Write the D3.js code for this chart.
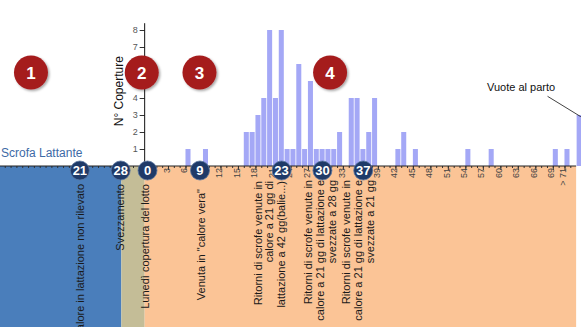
<!DOCTYPE html>
<html>
<head>
<meta charset="utf-8">
<script src="https://cdn.jsdelivr.net/npm/d3@7"></script>
<style>
  body { margin: 0; background: #fff; }
  svg { display: block; font-family: Arial, "Liberation Sans", sans-serif; }
</style>
</head>
<body>
<svg id="chart" width="581" height="327"></svg>
<script>
// giorni dalla copertura del lotto -> numero di coperture
const days = [6, 9, 16, 17, 18, 19, 20, 21, 22, 23, 24, 25, 26, 27, 28, 29, 30, 31, 32, 34, 35, 36, 37, 38, 42, 43, 45, 54, 58, 69, 71];
const counts = [1, 1, 2, 2, 3, 4, 8, 4, 8, 1, 1, 6, 1, 5, 1, 1, 1, 1, 2, 4, 4, 1, 2, 4, 1, 2, 1, 1, 1, 1, 1];
const emptyLabel = "Vuote al parto";
const emptyCount = 3;

const tickDays = [3, 6, 9, 12, 15, 18, 21, 24, 27, 30, 33, 36, 39, 42, 45, 48, 51, 54, 57, 60, 63, 66, 69, 71];
const tickLabels = ["3", "6", "9", "12", "15", "18", "21", "24", "27", "30", "33", "36", "39", "42", "45", "48", "51", "54", "57", "60", "63", "66", "69", "> 71"];

const lactMarks = [21, 28];           // giorni di lattazione
const coverMarks = [0, 9, 23, 30, 37]; // giorni dalla copertura
const stepLabels = ["1", "2", "3", "4"];

const noteLines = [
  ["Venuta in calore in lattazione non rilevato"],
  ["Svezzamento"],
  ["Lunedì copertura del lotto"],
  ["Venuta in  \"calore vera\""],
  ["Ritorni di scrofe venute in", "calore a 21 gg di", "lattazione a 42 gg(balie...)"],
  ["Ritorni di scrofe venute in", "calore a 21  gg di lattazione e", "svezzate a 28 gg"],
  ["Ritorni di scrofe venute in", "calore a 21  gg di lattazione e", "svezzate a 21 gg"]
];

// ---- layout ----
const width = 581, height = 327;
const svg = d3.select("#chart");

const x = d3.scaleLinear().domain([0, 72]).range([150.5, 570.3]);
const y = d3.scaleLinear().domain([0, 8]).range([166, 30]);
const step = x(1) - x(0);
const lactShift = 32.6;   // giorno lattazione -> giorno copertura
const markNudge = -3;

const zones = [
  {from: -30, to: -5, color: "#4a7ebb"},
  {from: -5, to: -1, color: "#c4bd97"},
  {from: -1, to: 73, color: "#fbc496"}
];
svg.selectAll("rect.zone")
  .data(zones)
  .join("rect")
  .attr("class", "zone")
  .attr("x", d => Math.max(0, x(d.from)))
  .attr("width", d => x(d.to) - Math.max(0, x(d.from)))
  .attr("y", y(0))
  .attr("height", height - y(0))
  .attr("fill", d => d.color);

svg.append("text")
  .attr("x", 1)
  .attr("y", 157)
  .attr("font-size", 12)
  .attr("fill", "#3d6aa6")
  .text("Scrofa Lattante");

// bars
const data = days.map((d, i) => ({day: d, n: counts[i]}));
svg.selectAll("rect.bar")
  .data(data)
  .join("rect")
  .attr("class", "bar")
  .attr("x", d => x(d.day))
  .attr("width", step - 0.8)
  .attr("y", d => y(d.n))
  .attr("height", d => y(0) - y(d.n))
  .attr("fill", "#a4a8f6");

svg.append("rect")
  .attr("x", x(73) + 0.5)
  .attr("width", step - 0.8)
  .attr("y", y(emptyCount))
  .attr("height", y(0) - y(emptyCount))
  .attr("fill", "#a4a8f6");

svg.append("text")
  .attr("x", x(69.4))
  .attr("y", y(4.4))
  .attr("text-anchor", "end")
  .attr("font-size", 11)
  .attr("fill", "#111")
  .text(emptyLabel);
svg.append("line")
  .attr("x1", x(68.1)).attr("y1", y(4.1))
  .attr("x2", x(73.8)).attr("y2", y(2.9))
  .attr("stroke", "#111")
  .attr("stroke-width", 0.8);

// y axis
const yAxis = svg.append("g")
  .attr("transform", "translate(" + x(-1) + ",0)")
  .call(d3.axisLeft(y).tickValues(d3.range(1, 9)).tickSize(5).tickSizeOuter(0).tickFormat(d3.format("d")));
yAxis.select(".domain").remove();
yAxis.append("line")
  .attr("y1", y(8.4)).attr("y2", y(0))
  .attr("stroke", "#111");
yAxis.selectAll(".tick line").attr("stroke", "#333");
yAxis.selectAll(".tick text")
  .attr("font-size", 9)
  .attr("fill", "#555")
  .attr("x", -7);

svg.append("text")
  .attr("transform", "translate(" + (x(-1) - 22) + "," + y(4.4) + ") rotate(-90)")
  .attr("text-anchor", "middle")
  .attr("font-size", 12)
  .attr("fill", "#111")
  .text("N° Coperture");

// x axis
const minor = svg.append("g")
  .attr("transform", "translate(0," + y(0) + ")")
  .call(d3.axisBottom(x).tickValues(d3.range(-26, 73)).tickSize(2).tickFormat(""));
minor.select(".domain").remove();
minor.selectAll(".tick line").attr("stroke", "#333");

const xAxis = svg.append("g")
  .attr("transform", "translate(0," + y(0) + ")")
  .call(d3.axisBottom(x).tickValues(tickDays).tickSize(4).tickFormat((d, i) => tickLabels[i]));
xAxis.select(".domain").remove();
xAxis.selectAll(".tick line").attr("stroke", "#333");
xAxis.selectAll(".tick text")
  .attr("transform", "rotate(-90)")
  .attr("text-anchor", "end")
  .attr("x", -2)
  .attr("y", -2)
  .attr("dy", "0.35em")
  .attr("font-size", 9)
  .attr("fill", "#444");
svg.append("line")
  .attr("x1", 0).attr("x2", x(73))
  .attr("y1", y(0)).attr("y2", y(0))
  .attr("stroke", "#222");

// rotated notes
const noteDay = [-12, -5.2, -0.95, 8.7, 20.4, 29.1, 35.6];
const noteTop = [184, 184, 184, 189, 181, 180, 180];
const lineH = 11.6;
noteLines.forEach((lines, k) => {
  lines.forEach((t, i) => {
    const cx = x(noteDay[k]) + (i - (lines.length - 1) / 2) * lineH;
    svg.append("text")
      .attr("transform", "translate(" + cx + "," + noteTop[k] + ") rotate(-90)")
      .attr("text-anchor", "end")
      .attr("dy", "0.35em")
      .attr("font-size", 11)
      .attr("fill", "#1a1a1a")
      .text(t);
  });
});

// marker circles on the axis
const marks = lactMarks.map(v => ({label: v, px: x(v - lactShift) + markNudge}))
  .concat(coverMarks.map(v => ({label: v, px: x(v) + markNudge})));
const mg = svg.selectAll("g.mark")
  .data(marks)
  .join("g")
  .attr("class", "mark")
  .attr("transform", d => "translate(" + d.px + "," + (y(0) + 4.5) + ")");
mg.append("circle")
  .attr("r", 9.5)
  .attr("fill", "#1f3a68")
  .attr("stroke", "#5a76a0")
  .attr("stroke-width", 0.8);
mg.append("text")
  .attr("text-anchor", "middle")
  .attr("dy", "0.36em")
  .attr("font-size", 13)
  .attr("font-weight", "bold")
  .attr("fill", "#fff")
  .text(d => d.label);

// red step badges
const defs = svg.append("defs");
const f = defs.append("filter").attr("id", "sh").attr("x", "-30%").attr("y", "-30%").attr("width", "170%").attr("height", "170%");
f.append("feDropShadow").attr("dx", 1.5).attr("dy", 1.5).attr("stdDeviation", 1.2).attr("flood-color", "#000").attr("flood-opacity", 0.35);

const stepDay = [-20.5, -1.5, 8.4, 30.8];
const sg = svg.selectAll("g.step")
  .data(stepLabels)
  .join("g")
  .attr("class", "step")
  .attr("transform", (d, i) => "translate(" + x(stepDay[i]) + "," + y(5.5) + ")");
sg.append("circle")
  .attr("r", 17)
  .attr("fill", "#a51c1f")
  .attr("filter", "url(#sh)");
sg.append("text")
  .attr("text-anchor", "middle")
  .attr("dy", "0.36em")
  .attr("font-size", 17)
  .attr("font-weight", "bold")
  .attr("fill", "#fff")
  .text(d => d);
</script>
</body>
</html>
